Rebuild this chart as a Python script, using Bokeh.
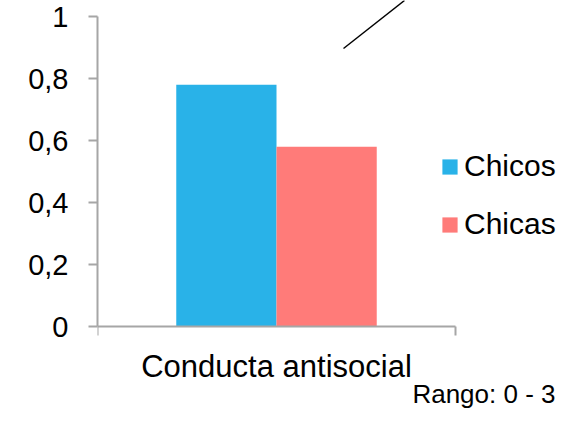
from bokeh.plotting import figure
from bokeh.models import (Range1d, LinearAxis, FixedTicker, Legend,
                          LegendItem, Arrow, Label, ColumnDataSource)
from bokeh.transform import dodge
from bokeh.embed import file_html
from bokeh.resources import INLINE

categories = ["Conducta antisocial"]
chicos = [0.78]
chicas = [0.58]
series_names = ["Chicos", "Chicas"]
y_ticks = [0, 0.2, 0.4, 0.6, 0.8, 1]
y_tick_labels = ["0", "0,2", "0,4", "0,6", "0,8", "1"]
note = "Rango: 0 - 3"

BLUE = "#29B2E8"
PINK = "#FF7B79"
GRAY = "#A6A6A6"
FONT = "Liberation Sans"

W, H = 558, 408
LEFT = 97          # frame left (y axis position)
Y0, Y1 = 326, 16   # pixel rows of value 0 and value 1
XPX = 358          # pixels per category slot

# each category occupies one unit slot [i, i+1]
cat_pos = [i + 0.5 for i in range(len(categories))]
src = ColumnDataSource(dict(pos=cat_pos, cat=categories, chicos=chicos, chicas=chicas))

ppu = Y0 - Y1
p = figure(width=W, height=H,
           x_range=Range1d(0, (W - LEFT) / XPX),
           y_range=Range1d(-(H - Y0) / ppu, 1 + Y1 / ppu),
           output_backend="svg", toolbar_location=None,
           x_axis_location=None, y_axis_location=None,
           min_border_left=LEFT, min_border_right=0,
           min_border_top=0, min_border_bottom=0)
p.outline_line_color = None
p.xgrid.visible = False
p.ygrid.visible = False
p.background_fill_color = "white"
p.border_fill_color = "white"

r1 = p.vbar(x=dodge("pos", -0.14), top="chicos", width=0.28,
            source=src, fill_color=BLUE, line_color=None)
r2 = p.vbar(x=dodge("pos", 0.14), top="chicas", width=0.28,
            source=src, fill_color=PINK, line_color=None)

yax = LinearAxis(ticker=FixedTicker(ticks=y_ticks), bounds=(0, 1),
                 major_label_overrides=dict(zip(y_ticks, y_tick_labels)),
                 major_tick_out=9, major_tick_in=0,
                 minor_tick_out=0, minor_tick_in=0,
                 axis_line_color=GRAY, axis_line_width=2,
                 major_tick_line_color=GRAY, major_tick_line_width=2,
                 major_label_text_font=FONT, major_label_text_font_size="29px",
                 major_label_text_color="black", major_label_standoff=20)
p.add_layout(yax, "left")

n = len(categories)
xax = LinearAxis(fixed_location=0, bounds=(0, n),
                 ticker=FixedTicker(ticks=cat_pos, minor_ticks=list(range(n + 1))),
                 major_label_overrides=dict(zip(cat_pos, categories)),
                 major_tick_out=0, major_tick_in=0,
                 minor_tick_out=9, minor_tick_in=0,
                 axis_line_color=GRAY, axis_line_width=2,
                 minor_tick_line_color=GRAY, minor_tick_line_width=2,
                 major_label_text_font=FONT, major_label_text_font_size="31px",
                 major_label_text_color="black", major_label_standoff=13)
p.add_layout(xax, "below")

legend = Legend(items=[LegendItem(label=series_names[0], renderers=[r1]),
                       LegendItem(label=series_names[1], renderers=[r2])],
                location=(343, 167), orientation="vertical",
                glyph_width=19, glyph_height=19, label_standoff=5,
                spacing=24, padding=0, margin=0,
                border_line_color=None, background_fill_alpha=0,
                label_text_font=FONT, label_text_font_size="30px",
                label_text_color="black")
p.add_layout(legend, "center")

p.add_layout(Arrow(end=None, x_start=246, y_start=360, x_end=307, y_end=408,
                   start_units="screen", end_units="screen",
                   line_color="black", line_width=1.5))

p.add_layout(Label(x=458, y=15, x_units="screen", y_units="screen", text=note,
                   text_align="right", text_baseline="alphabetic",
                   text_font=FONT, text_font_size="26px", text_color="black"))

open("out.html", "w").write(file_html(p, INLINE))
